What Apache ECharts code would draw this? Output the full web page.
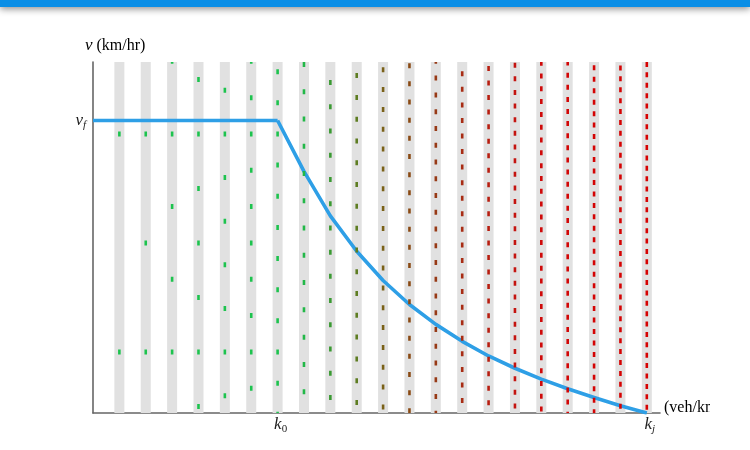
<!DOCTYPE html>
<html><head><meta charset="utf-8">
<script src="https://cdn.jsdelivr.net/npm/echarts@6/dist/echarts.min.js"></script>
<style>html,body{margin:0;padding:0;background:#fff}#c{width:750px;height:450px}</style>
</head><body><div id="c"></div>
<script>
// ---- data ----
const lanes = [1,2,3,4,5,6,7,8,9,10,11,12,13,14,15,16,17,18,19,20,21];
const laneColors = ['#1dc34e','#1dc34e','#1dc34e','#1dc34e','#1dc34e','#1dc34e','#1dc34e',
  '#22b848','#3a9a32','#5e7d22','#7a6118','#8a4a14','#973a16','#a82c14','#b81e10',
  '#c41410','#cf0a0a','#d20606','#d40404','#d50303','#d60202'];
// spacing between vehicles in each lane (v-axis units)
const laneHeadway = [0.7453,0.3727,0.2484,0.1863,0.1491,0.1242,0.1065,0.0932,0.0828,0.0745,
  0.0678,0.0621,0.0573,0.0532,0.0497,0.0466,0.0438,0.0414,0.0392,0.0373,0.0355];
// position of one vehicle in each lane (v-axis units)
const laneAnchor = [0.954,0.954,0.954,0.954,0.954,0.954,0.954,1.005,0.964,0.930,0.970,
  0.939,0.973,0.947,0.979,0.956,0.977,0.948,0.945,0.956,0.943];
const flatK = [0, 7];
const flatV = [1, 1];
const curveK = [7,8,9,10,11,12,13,14,15,16,17,18,19,20,21];
const curveV = [1,0.826,0.674,0.553,0.453,0.371,0.303,0.245,0.195,0.153,0.116,0.083,0.053,0.025,0];
const xTickValues = [7, 21];
const xTickSubs = ['0', 'j'];
const yTickValues = [1];
const X_MAX = 21.5, Y_MAX = 1.2;

// ---- layout ----
const W = 750, H = 450;
const G = {left: 93, right: 90, top: 62, bottom: 37};
const gridH = H - G.top - G.bottom;
const pxPerV = gridH / Y_MAX;
const DASH = 5;

const chart = echarts.init(document.getElementById('c'), null, {renderer: 'canvas'});
const FONT = '"Liberation Serif", "DejaVu Serif", serif';
const TXT = '#222';

const series = [];
series.push({
  type: 'bar', silent: true, z: 1, barWidth: 10, animation: false,
  itemStyle: {color: '#e1e1e1'},
  data: lanes.map(k => [k, Y_MAX])
});
series.push({
  type: 'line', silent: true, z: 2, showSymbol: false, animation: false,
  lineStyle: {color: '#2e9fe6', width: 3.6, join: 'round'},
  data: flatK.map((k, i) => [k, flatV[i]])
});
series.push({
  type: 'line', silent: true, z: 2, showSymbol: false, animation: false,
  lineStyle: {color: '#2e9fe6', width: 3.6, join: 'round'},
  data: curveK.map((k, i) => [k, curveV[i]])
});
lanes.forEach((k, i) => {
  const P = laneHeadway[i] * pxPerV;
  const anchorY = G.top + (Y_MAX - laneAnchor[i]) * pxPerV;
  let off = -(anchorY - DASH / 2 - G.top);
  off = ((off % P) + P) % P;
  series.push({
    type: 'line', silent: true, z: 3, showSymbol: false, animation: false,
    lineStyle: {color: laneColors[i], width: 2.6, type: [DASH, P - DASH], dashOffset: off, cap: 'butt'},
    data: [[k, Y_MAX], [k, 0]]
  });
});

const rich = {
  i: {fontFamily: FONT, fontStyle: 'italic', fontSize: 17, color: TXT, lineHeight: 20},
  s: {fontFamily: FONT, fontSize: 11, color: TXT, lineHeight: 20, padding: [9, 0, 0, 0]},
  si: {fontFamily: FONT, fontStyle: 'italic', fontSize: 11, color: TXT, lineHeight: 20, padding: [9, 0, 0, 0]},
  n: {fontFamily: FONT, fontSize: 16, color: TXT, lineHeight: 20}
};

chart.setOption({
  animation: false,
  grid: {left: G.left, right: G.right, top: G.top, bottom: G.bottom, containLabel: false},
  xAxis: {
    type: 'value', min: 0, max: X_MAX,
    splitLine: {show: false}, axisTick: {show: false},
    axisLine: {show: true, onZero: false, lineStyle: {color: '#666', width: 1.6}},
    axisLabel: {
      show: true, customValues: xTickValues, margin: 2, padding: [0, 0, 0, 6],
      formatter: v => {
        const s = xTickSubs[xTickValues.indexOf(v)];
        return '{i|k}{' + (s === 'j' ? 'si' : 's') + '|' + s + '}';
      },
      rich: rich
    }
  },
  yAxis: {
    type: 'value', min: 0, max: Y_MAX,
    splitLine: {show: false}, axisTick: {show: false},
    axisLine: {show: true, onZero: false, lineStyle: {color: '#666', width: 1.6}},
    axisLabel: {
      show: true, customValues: yTickValues, margin: 7,
      formatter: () => '{i|v}{si|f}',
      rich: rich
    }
  },
  graphic: [
    {type: 'rect', z: 100, shape: {x: 0, y: -6, width: W, height: 13},
      style: {fill: '#0a8ee6', shadowBlur: 7, shadowOffsetY: 2, shadowColor: 'rgba(0,0,0,0.45)'}},
    {type: 'text', z: 50, left: 85, top: 37,
      style: {text: '{i|v}{n| (km/hr)}', rich: rich}},
    {type: 'text', z: 50, left: 664, top: 400,
      style: {text: '{n|(veh/km)}', rich: rich}},
    {type: 'rect', z: 60, shape: {x: 710, y: 395, width: 40, height: 30}, style: {fill: '#fff'}}
  ],
  series: series
});
</script></body></html>
